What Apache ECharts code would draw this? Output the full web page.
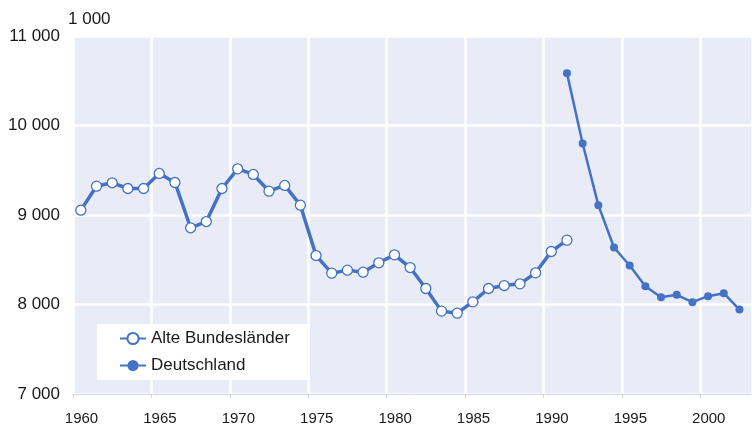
<!DOCTYPE html>
<html><head><meta charset="utf-8">
<script src="https://cdn.jsdelivr.net/npm/echarts@6/dist/echarts.min.js"></script>
<style>html,body{margin:0;padding:0;background:#fff}#c{width:752px;height:427px}</style>
</head><body><div id="c"></div>
<script>
var yearsAlt = [1960,1961,1962,1963,1964,1965,1966,1967,1968,1969,1970,1971,1972,1973,1974,1975,1976,1977,1978,1979,1980,1981,1982,1983,1984,1985,1986,1987,1988,1989,1990,1991];
var valuesAlt = [9054,9322,9360,9296,9296,9464,9363,8857,8927,9296,9516,9453,9266,9330,9110,8547,8350,8384,8361,8466,8555,8413,8179,7926,7903,8030,8179,8212,8231,8354,8592,8719];
var yearsDe = [1991,1992,1993,1994,1995,1996,1997,1998,1999,2000,2001,2002];
var valuesDe = [10585,9799,9110,8637,8436,8205,8082,8108,8026,8093,8126,7944];
var xTicks = [1960,1965,1970,1975,1980,1985,1990,1995,2000];
var yTicks = [7000,8000,9000,10000,11000];
var seriesNames = ['Alte Bundesländer','Deutschland'];
var unitLabel = '1 000';

function pts(ys, vs){ return ys.map(function(y,i){ return [y+0.5, vs[i]]; }); }
function fmtNum(v){ return String(v).replace(/\B(?=(\d{3})+(?!\d))/g,' '); }

var color = '#4472C4';
var chart = echarts.init(document.getElementById('c'), null, {renderer:'canvas'});
chart.setOption({
  animation:false,
  textStyle:{fontFamily:'Liberation Sans, Arial, sans-serif'},
  title:{text:unitLabel, left:63, top:6, textStyle:{fontSize:17, fontWeight:'normal', color:'#1a1a1a', fontFamily:'Liberation Sans, Arial, sans-serif'}},
  grid:{left:73, right:0, top:36, bottom:33, show:true, backgroundColor:'#E9EBF6', borderWidth:0},
  xAxis:{
    type:'value', min:1960, max:2003.3, interval:5,
    axisLine:{show:true, lineStyle:{color:'#d6d8e0', width:1}},
    axisTick:{show:true, length:4, lineStyle:{color:'#d6d8e0'}},
    axisLabel:{fontSize:15, color:'#1a1a1a', margin:17, showMaxLabel:false, padding:[0,0,0,17],
      formatter:function(v){ return xTicks.indexOf(v) >= 0 ? String(v) : ''; }},
    splitLine:{show:true, lineStyle:{color:'#ffffff', width:2.5}}
  },
  yAxis:{
    type:'value', min:7000, max:11000, interval:1000,
    axisLine:{show:false}, axisTick:{show:false},
    axisLabel:{fontSize:17, color:'#1a1a1a', margin:13,
      formatter:function(v){ return yTicks.indexOf(v) >= 0 ? fmtNum(v) : ''; }},
    splitLine:{show:true, lineStyle:{color:'#ffffff', width:2.5}}
  },
  legend:{
    orient:'vertical', left:97, top:324, width:216, height:54,
    backgroundColor:'#ffffff', padding:[6,20,6,22], itemGap:10,
    itemWidth:26, itemHeight:14,
    textStyle:{fontSize:17, color:'#1a1a1a'},
    data:seriesNames
  },
  series:[
    {name:seriesNames[0], type:'line', data:pts(yearsAlt, valuesAlt),
     symbol:'circle', symbolSize:10, showAllSymbol:true,
     lineStyle:{color:color, width:3.5},
     itemStyle:{color:'#ffffff', borderColor:color, borderWidth:1.3}},
    {name:seriesNames[1], type:'line', data:pts(yearsDe, valuesDe),
     symbol:'circle', symbolSize:8, showAllSymbol:true,
     lineStyle:{color:color, width:2.5},
     itemStyle:{color:color}}
  ]
});
</script></body></html>
